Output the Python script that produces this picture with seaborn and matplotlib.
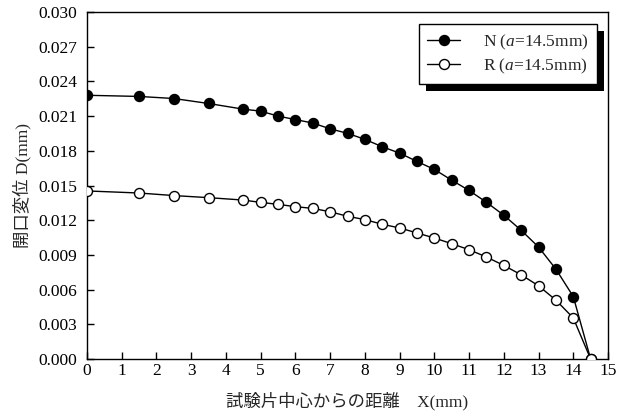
import matplotlib
matplotlib.use("Agg")
import matplotlib.pyplot as plt
from matplotlib.patches import Rectangle
import pandas as pd
import seaborn as sns

# Distance from specimen centre (mm)
x_pos = [0, 1.5, 2.5, 3.5, 4.5, 5, 5.5, 6, 6.5, 7, 7.5, 8, 8.5, 9, 9.5,
         10, 10.5, 11, 11.5, 12, 12.5, 13, 13.5, 14, 14.5]

# Crack opening displacement (mm)
disp_n = [0.0228, 0.0227, 0.02252, 0.02209, 0.0216, 0.02143, 0.0210, 0.0207,
          0.0204, 0.0199, 0.01951, 0.01899, 0.01835, 0.0178, 0.01708,
          0.01639, 0.01546, 0.01457, 0.01355, 0.01243, 0.01113, 0.00968,
          0.00777, 0.0054, 0.0]
disp_r = [0.01453, 0.01435, 0.01413, 0.01395, 0.01374, 0.01354, 0.01337,
          0.01317, 0.01302, 0.01273, 0.01234, 0.01205, 0.01165, 0.01133,
          0.0109, 0.01046, 0.00997, 0.00945, 0.00882, 0.00809, 0.00728,
          0.00633, 0.00509, 0.00355, 0.0]

labels = ["N ($\\mathit{a}$=14.5mm)", "R ($\\mathit{a}$=14.5mm)"]
x_ticks = list(range(0, 16))
y_ticks = [0.000, 0.003, 0.006, 0.009, 0.012, 0.015, 0.018, 0.021, 0.024, 0.027, 0.030]

df_n = pd.DataFrame({"x": x_pos, "d": disp_n})
df_r = pd.DataFrame({"x": x_pos, "d": disp_r})

sns.set_style("ticks")
plt.rcParams["font.family"] = ["Liberation Serif", "Noto Sans CJK JP"]
plt.rcParams["mathtext.fontset"] = "custom"
plt.rcParams["mathtext.rm"] = "Liberation Serif"
plt.rcParams["mathtext.it"] = "Liberation Serif:italic"

FS = 12.5

fig = plt.figure(figsize=(6.23, 4.16), dpi=100)
ax = fig.add_axes([87 / 623, 1 - 359 / 416, 521 / 623, 347 / 416])

common = dict(color="black", marker="o", markersize=7.2, markeredgecolor="black",
              markeredgewidth=1.0, linewidth=1.0, ax=ax)
sns.lineplot(data=df_n, x="x", y="d", markerfacecolor="black", label=labels[0],
             zorder=3, **common)
sns.lineplot(data=df_r, x="x", y="d", markerfacecolor="white", label=labels[1],
             zorder=3, **common)

ax.set_xlim(0, 15)
ax.set_ylim(0, 0.030)
ax.set_xticks(x_ticks)
ax.set_yticks(y_ticks)
ax.set_xticklabels([str(t) for t in x_ticks])
ax.set_yticklabels([f"{t:.3f}" for t in y_ticks])
ax.tick_params(axis="both", direction="in", length=5, width=1, labelsize=FS,
               colors="black")
ax.tick_params(axis="x", pad=3)
ax.tick_params(axis="y", pad=7)
for sp in ax.spines.values():
    sp.set_linewidth(1.0)
    sp.set_color("black")
    sp.set_visible(True)

ax.set_xlabel("試験片中心からの距離\u3000X(mm)", fontsize=FS, labelpad=9)
ax.set_ylabel("開口変位 D(mm)", fontsize=FS, labelpad=5)

leg = ax.legend(loc="upper right", bbox_to_anchor=(0.979, 0.965),
                borderaxespad=0, frameon=True, fancybox=False, fontsize=FS,
                handlelength=1.9, handletextpad=1.3, labelspacing=0.25,
                borderpad=0.5)
frame = leg.get_frame()
frame.set_edgecolor("black")
frame.set_linewidth(1.0)
frame.set_facecolor("white")
frame.set_alpha(1)
leg.set_zorder(6)

# solid drop shadow behind the legend box
fig.canvas.draw()
bb = frame.get_window_extent().transformed(ax.transAxes.inverted())
dx = 7 / 521
dy = 7 / 347
ax.add_patch(Rectangle((bb.x0 + dx, bb.y0 - dy), bb.width, bb.height,
                       transform=ax.transAxes, facecolor="black",
                       edgecolor="none", zorder=5, clip_on=False))

fig.savefig("out.png", dpi=100)
